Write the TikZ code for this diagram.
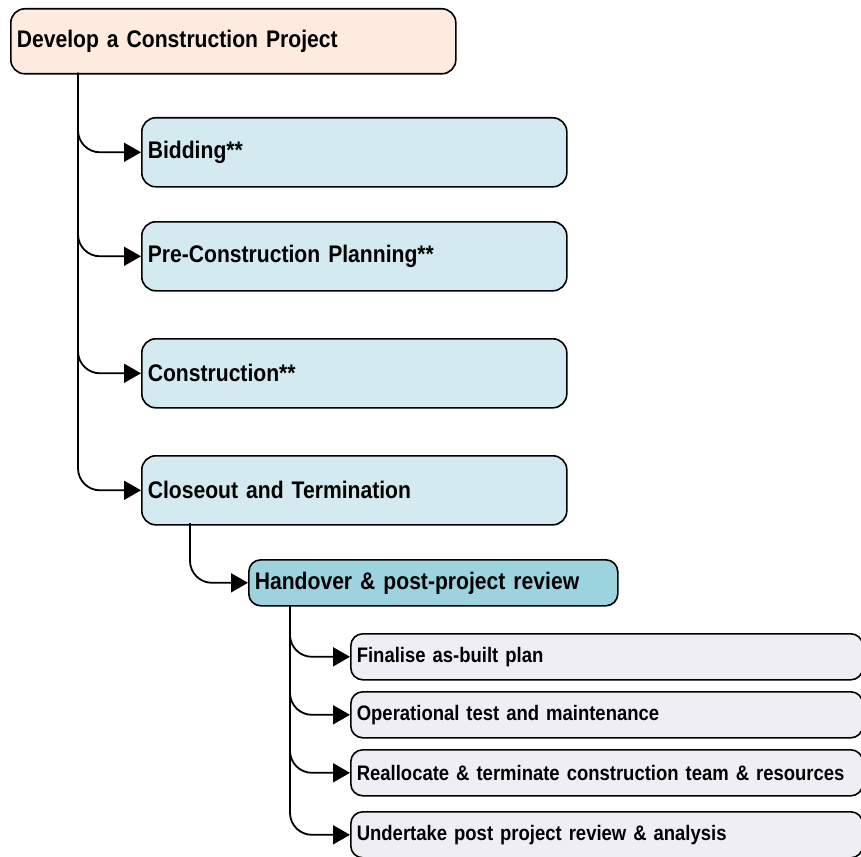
\documentclass[tikz,border=0pt]{standalone}
\usepackage{fontspec}
\setmainfont{Liberation Sans}[FakeStretch=0.88]
\usetikzlibrary{arrows.meta}
\definecolor{rootfill}{RGB}{252,235,222}
\definecolor{phasefill}{RGB}{211,235,240}
\definecolor{stagefill}{RGB}{157,211,223}
\definecolor{taskfill}{RGB}{240,238,245}

\begin{document}
\begin{tikzpicture}[x=1pt,y=-1pt,
  box/.style={draw=black,line width=1.6pt,anchor=north west,inner xsep=6pt,inner ysep=0pt,
    align=left,font=\bfseries\fontsize{24}{28}\selectfont},
  rootbox/.style={box,fill=rootfill,rounded corners=14pt,text width=433pt,minimum height=65pt},
  phasebox/.style={box,fill=phasefill,rounded corners=14pt,text width=413pt,minimum height=69pt},
  stagebox/.style={box,fill=stagefill,rounded corners=12pt,text width=357pt,minimum height=46pt},
  taskbox/.style={box,fill=taskfill,rounded corners=12pt,text width=500pt,minimum height=46pt,
    font=\bfseries\fontsize{21}{25}\selectfont},
  link/.style={line width=1.8pt,rounded corners=22pt,-{Triangle[length=17pt,width=19pt]}}]
\useasboundingbox (0,0) rectangle (861,856);
% boxes
\node[rootbox] (root) at (10,8) {Develop a Construction Project};
\node[phasebox] (bid) at (141,117) {Bidding**};
\node[phasebox] (pre) at (141,221) {Pre-Construction Planning**};
\node[phasebox] (con) at (141,338) {Construction**};
\node[phasebox] (clo) at (141,455) {Closeout and Termination};
\node[stagebox] (hand) at (248,559) {Handover \& post-project review};
\node[taskbox] (fin) at (350,633) {Finalise as-built plan};
\node[taskbox] (opt) at (350,691) {Operational test and maintenance};
\node[taskbox] (rea) at (350,749) {Reallocate \& terminate construction team \& resources};
\node[taskbox] (und) at (350,811) {Undertake post project review \& analysis};
% connectors
\coordinate (t0) at (78,73);
\coordinate (t1) at (190,523);
\coordinate (t2) at (290,605);
\foreach \n in {bid,pre,con,clo} \draw[link] (t0) |- (\n.west);
\draw[link] (t1) |- (hand.west);
\foreach \n in {fin,opt,rea,und} \draw[link] (t2) |- (\n.west);
\end{tikzpicture}
\end{document}
